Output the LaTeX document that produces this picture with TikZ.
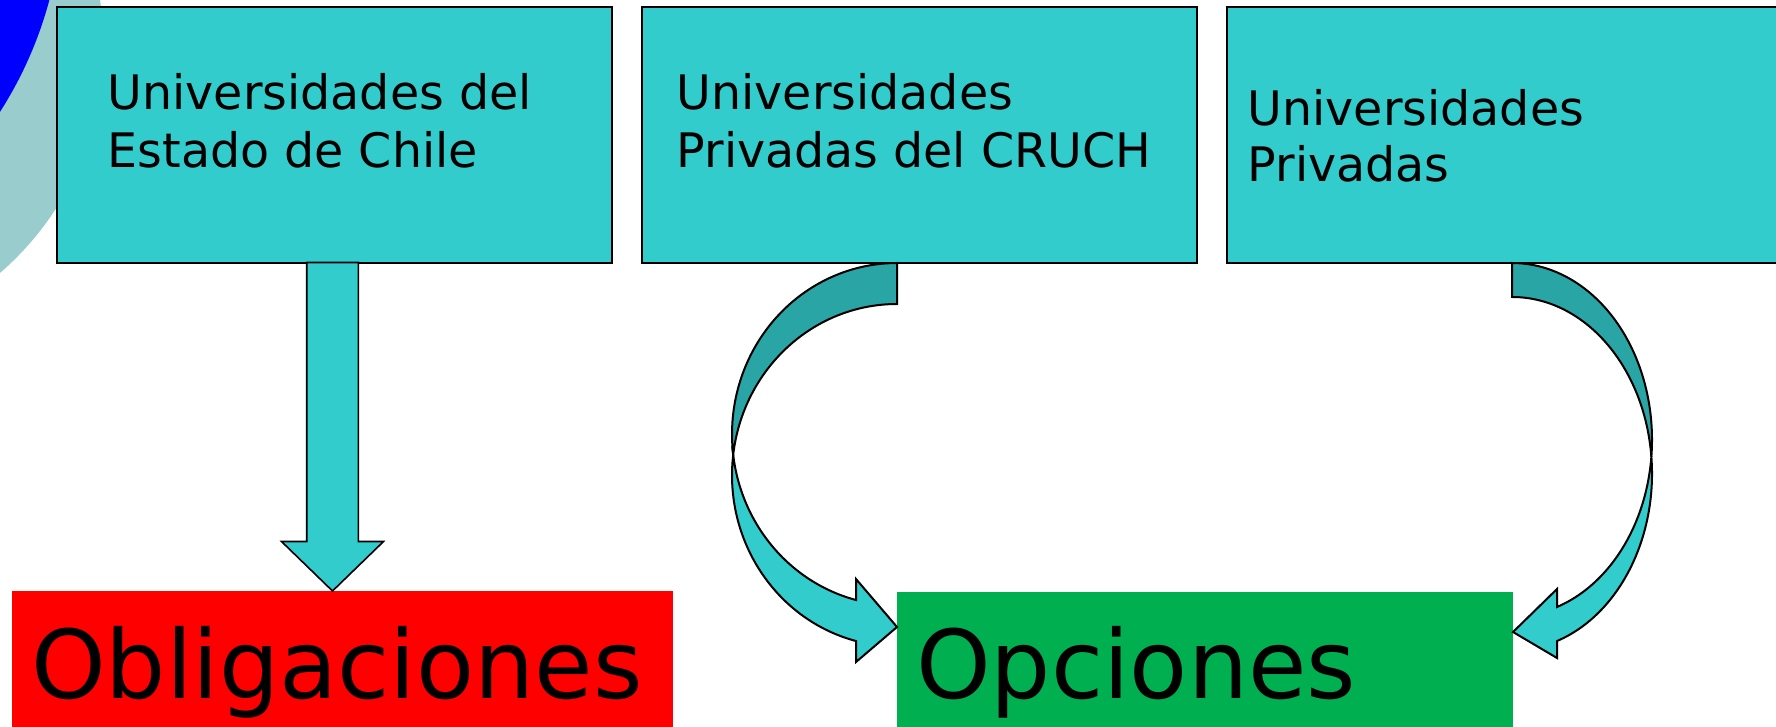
\documentclass[tikz,border=0pt]{standalone}
\usepackage{fontspec}
\setmainfont{DejaVu Sans}
\usetikzlibrary{calc}
\definecolor{cyanbox}{HTML}{33CCCC}
\definecolor{darkband}{HTML}{2AA5A5}
\definecolor{paleteal}{HTML}{99CCCC}
\definecolor{deepblue}{HTML}{0000FF}
\definecolor{redbox}{HTML}{FF0000}
\definecolor{greenbox}{HTML}{00B050}
\tikzset{
  ubox/.style={draw=black, line width=2pt, fill=cyanbox, inner sep=0pt, outer sep=0pt, anchor=north west},
  bigbox/.style={inner sep=0pt, outer sep=0pt, anchor=north west},
  smalltext/.style={anchor=base west, inner sep=0pt, font=\fontsize{47.5}{58}\selectfont},
  bigtext/.style={anchor=base west, inner sep=0pt, font=\fontsize{95}{114}\selectfont},
  blockarrow/.style={draw=black, line width=2pt, line join=miter, fill=cyanbox},
  backband/.style={draw=black, line width=2pt, line join=miter, fill=darkband}
}
\begin{document}
\begin{tikzpicture}[x=1pt,y=-1pt]
\useasboundingbox (0,0) rectangle (1776,727);
\clip (0,0) rectangle (1776,727);
% background decoration circles
\fill[paleteal] (-195.4,46.6) circle[radius=299];
\fill[deepblue] (-338,-104) circle[radius=401];
% top boxes
\node[ubox, minimum width=555, minimum height=255] (b1) at (57,7.5) {};
\node[ubox, minimum width=555, minimum height=255] (b2) at (642,7.5) {};
\node[ubox, minimum width=600, minimum height=255] (b3) at (1227,7.5) {};
% bottom boxes
\node[bigbox, fill=redbox, minimum width=661, minimum height=140] (obl) at (12,591) {};
\node[bigbox, fill=greenbox, minimum width=616, minimum height=140] (opc) at (897,592) {};
% straight down arrow
\coordinate (dtop) at ($(b1.south west)+(275.5,0)$);
\coordinate (dtip) at (dtop |- obl.north);
\draw[blockarrow, line width=1.6pt] ($(dtop)+(-25.8,0)$) -- ($(dtip)+(-25.8,-49.5)$) -- ($(dtip)+(-51,-49.5)$) -- (dtip)
  -- ($(dtip)+(51,-49.5)$) -- ($(dtip)+(25.8,-49.5)$) -- ($(dtop)+(25.8,0)$) -- cycle;
% left curved arrow (from b2 to opc)
\coordinate (lstart) at (897,263);
\coordinate (lcross) at (733.2,454.7);
\coordinate (ltip) at (opc.west |- 0,627);
\draw[backband] (lstart) arc[start angle=-90, end angle=-186.88, x radius=165, y radius=171.2]
  arc[start angle=-173.12, end angle=-90, x radius=165, y radius=171.2] -- cycle;
\draw[blockarrow] (lcross) arc[start angle=186.88, end angle=104.39, x radius=165, y radius=171.2]
  -- (856,662) -- (ltip) -- (856,579) -- (856,600)
  arc[start angle=104.39, end angle=173.12, x radius=165, y radius=171.2] -- cycle;
% right curved arrow (from b3 to opc)
\coordinate (rstart) at (1512,263);
\coordinate (rcross) at (1651.35,456.7);
\coordinate (rtip) at (opc.east |- 0,632);
\draw[backband] (rstart) arc[start angle=-90, end angle=5.52, x radius=140, y radius=176.7]
  arc[start angle=-5.52, end angle=-90, x radius=140, y radius=176.7] -- cycle;
\draw[blockarrow] (rcross) arc[start angle=-5.52, end angle=71.25, x radius=140, y radius=176.7]
  -- (1557,658) -- (rtip) -- (1557,589) -- (1557,607)
  arc[start angle=71.25, end angle=5.52, x radius=140, y radius=176.7] -- cycle;
% texts
\node[smalltext] (t1a) at (107.5,110) {Universidades del};
\node[smalltext] (t1b) at (107.5,168) {Estado de Chile};
\node[smalltext] (t2a) at (676.5,110) {Universidades};
\node[smalltext] (t2b) at (676.5,168) {Privadas del CRUCH};
\node[smalltext] (t3a) at (1247.5,125.7) {Universidades};
\node[smalltext] (t3b) at (1247.5,181.7) {Privadas};
\node[bigtext] (tobl) at (31,698) {Obligaciones};
\node[bigtext] (topc) at (916,698) {Opciones};
\end{tikzpicture}
\end{document}
